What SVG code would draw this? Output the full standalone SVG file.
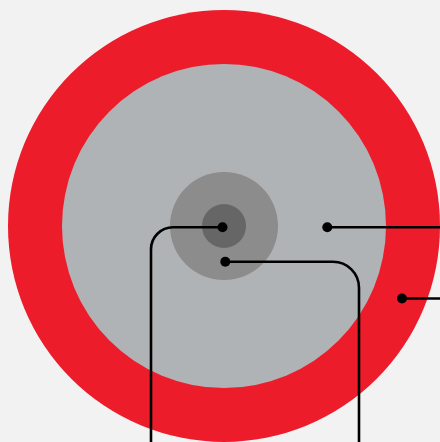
<svg xmlns="http://www.w3.org/2000/svg" width="440" height="442" viewBox="0 0 440 442">
<style>
.ln{fill:none;stroke:#000;stroke-width:2.6}
.dot{fill:#000}
</style>
<rect width="440" height="442" fill="#f2f2f2"/>
<g id="outer"><circle cx="224" cy="226" r="216" fill="#ed1c2b"/></g>
<g id="middle"><circle cx="224" cy="226" r="162" fill="#b0b3b6"/></g>
<g id="core"><circle cx="224" cy="226" r="54" fill="#8c8c8c"/></g>
<g id="center"><circle cx="224" cy="226" r="22" fill="#666666"/></g>
<g id="connectors">
<path class="ln" d="M222.5 227.3 H173 A22 22 0 0 0 151 249.3 V442"/>
<circle class="dot" cx="222.5" cy="227.3" r="5"/>
<path class="ln" d="M225.3 261.8 H333 A26 26 0 0 1 359 287.8 V442"/>
<circle class="dot" cx="225.3" cy="261.8" r="5"/>
<path class="ln" d="M327.3 227.3 H440"/>
<circle class="dot" cx="327.3" cy="227.3" r="5"/>
<path class="ln" d="M402 298.5 H440"/>
<circle class="dot" cx="402" cy="298.5" r="5"/>
</g>
</svg>
